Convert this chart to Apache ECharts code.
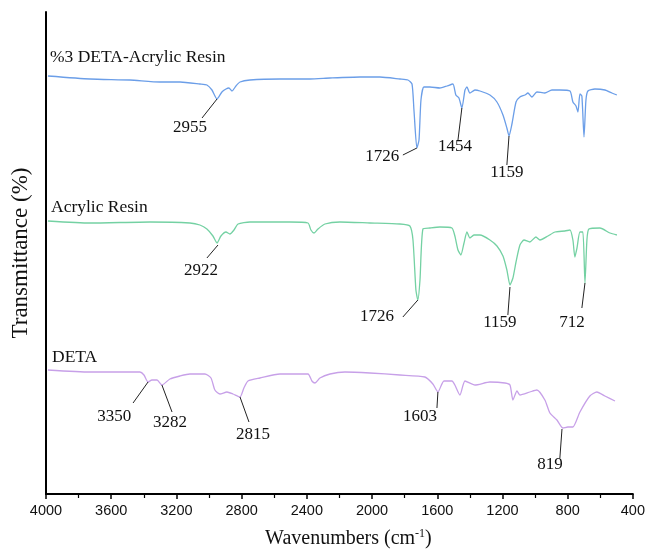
<!DOCTYPE html>
<html>
<head>
<meta charset="utf-8">
<script src="https://cdn.jsdelivr.net/npm/echarts@6/dist/echarts.min.js"></script>
<style>
  html, body { margin: 0; padding: 0; background: #fff; }
  #chart { width: 648px; height: 554px; }
</style>
</head>
<body>
<div id="chart"></div>
<script>
// spectra as [wavenumber, offset transmittance] (arbitrary units, stacked)
const detaAcrylic = [
  [3988, 418], [3730, 415], [3485, 414], [3301, 412], [3178, 412], [3056, 410], [3013, 409],
  [2982, 404], [2951, 395], [2921, 402], [2896, 405], [2878, 406], [2859, 403], [2835, 408],
  [2810, 412], [2749, 414], [2565, 415], [2381, 415], [2258, 416], [2074, 417], [1952, 417],
  [1829, 415], [1780, 414], [1755, 410], [1743, 384], [1725, 346], [1712, 354], [1700, 394],
  [1682, 407], [1645, 407], [1584, 406], [1541, 408], [1504, 410], [1486, 399], [1467, 396],
  [1449, 386], [1430, 404], [1418, 407], [1400, 401], [1369, 404], [1338, 403], [1277, 399],
  [1234, 392], [1197, 379], [1173, 366], [1160, 358], [1142, 370], [1117, 392], [1093, 397],
  [1062, 399], [1044, 401], [1019, 397], [989, 402], [940, 401], [897, 404], [848, 404],
  [786, 403], [768, 392], [749, 388], [737, 382], [725, 400], [713, 398], [700, 357],
  [688, 394], [676, 403], [633, 405], [571, 404], [529, 401], [498, 399]
];
const acrylic = [
  [3988, 273], [3730, 271], [3362, 272], [3117, 271], [3056, 269], [3013, 265], [2976, 258],
  [2951, 251], [2927, 258], [2896, 262], [2872, 260], [2847, 264], [2822, 270], [2749, 272],
  [2504, 272], [2393, 271], [2375, 264], [2356, 261], [2332, 265], [2289, 270], [2197, 272],
  [2013, 271], [1829, 270], [1768, 268], [1749, 254], [1731, 204], [1719, 194], [1706, 214],
  [1688, 265], [1645, 266], [1584, 267], [1510, 266], [1492, 258], [1473, 244], [1455, 239],
  [1436, 251], [1418, 262], [1400, 256], [1375, 259], [1338, 259], [1277, 254], [1234, 248],
  [1197, 238], [1173, 224], [1154, 209], [1136, 216], [1117, 232], [1093, 249], [1068, 254],
  [1032, 252], [995, 257], [970, 254], [921, 258], [878, 262], [817, 263], [786, 264],
  [768, 254], [756, 237], [743, 246], [725, 262], [707, 262], [694, 211], [682, 254],
  [670, 265], [602, 266], [541, 261], [498, 259]
];
const deta = [
  [3988, 124], [3730, 122], [3424, 122], [3399, 119], [3374, 112], [3350, 114], [3319, 114],
  [3289, 109], [3240, 115], [3178, 118], [3117, 120], [3025, 120], [2988, 116], [2964, 104],
  [2933, 100], [2890, 102], [2853, 100], [2810, 97], [2786, 106], [2761, 113], [2688, 116],
  [2565, 120], [2393, 120], [2369, 113], [2350, 111], [2320, 116], [2258, 120], [2166, 122],
  [2013, 121], [1829, 119], [1676, 117], [1627, 110], [1596, 102], [1559, 113], [1510, 113],
  [1492, 109], [1461, 99], [1430, 113], [1369, 109], [1277, 112], [1185, 111], [1154, 109],
  [1136, 94], [1111, 103], [1093, 99], [1032, 102], [989, 104], [940, 94], [909, 81],
  [866, 74], [829, 66], [799, 67], [768, 67], [725, 82], [664, 98], [621, 102],
  [572, 98], [510, 93]
];

// peak annotations: label, peak point, leader end, text position
const peaksDetaAcrylic = [
  ['2955', [2951, 395], [3043, 376], [3117, 366]],
  ['1726', [1725, 346], [1811, 339], [1938, 337]],
  ['1454', [1449, 386], [1473, 354], [1492, 347]],
  ['1159', [1160, 358], [1173, 329], [1173, 321]]
];
const peaksAcrylic = [
  ['2922', [2945, 249], [3013, 236], [3049, 223]],
  ['1726', [1719, 194], [1811, 177], [1969, 177]],
  ['1159', [1154, 207], [1167, 179], [1216, 171]],
  ['712', [694, 211], [713, 186], [774, 171]]
];
const peaksDeta = [
  ['3350', [3374, 112], [3466, 91], [3582, 77]],
  ['3282', [3289, 109], [3227, 82], [3240, 71]],
  ['2815', [2810, 97], [2755, 72], [2730, 59]],
  ['1603', [1596, 102], [1602, 86], [1706, 77]],
  ['819', [835, 65], [848, 36], [909, 29]]
];

const seriesNames = ['%3 DETA-Acrylic Resin', 'Acrylic Resin', 'DETA'];
const seriesColors = ['#6b9ee8', '#74d1a3', '#c7a0e8'];
const xTicks = [4000, 3600, 3200, 2800, 2400, 2000, 1600, 1200, 800, 400];

const serif = '"Liberation Serif", "DejaVu Serif", serif';
const sans = '"Liberation Sans", Arial, sans-serif';

function buildSeries(name, data, color, peaks) {
  return {
    name: name,
    type: 'line',
    data: data,
    showSymbol: false,
    smooth: 0.2,
    lineStyle: { color: color, width: 1.3 },
    markLine: {
      silent: true,
      symbol: 'none',
      label: { show: false },
      lineStyle: { color: '#222', width: 1, type: 'solid' },
      data: peaks.map((p) => [{ coord: p[1] }, { coord: p[2] }]),
    },
    markPoint: {
      silent: true,
      symbol: 'circle',
      symbolSize: 0,
      label: {
        show: true,
        position: 'inside',
        color: '#111',
        fontFamily: serif,
        fontSize: 17,
        formatter: (d) => d.name,
      },
      data: peaks.map((p) => ({ name: p[0], coord: p[3] })),
    },
  }
}

const chart = echarts.init(document.getElementById('chart'))
chart.setOption({
  animation: false,
  grid: { left: 46, right: 15, top: 12, bottom: 60 },
  xAxis: {
    type: 'value',
    inverse: true,
    min: 400,
    max: 4000,
    interval: 400,
    name: '{a|Wavenumbers (cm}{b|-1}{a|)}',
    nameLocation: 'middle',
    nameGap: 34,
    nameTextStyle: {
      padding: [0, 0, 0, 18],
      rich: {
        a: { fontFamily: serif, fontSize: 20, color: '#111' },
        b: { fontFamily: serif, fontSize: 12, color: '#111', verticalAlign: 'top', padding: [0, 0, 9, 0] },
      },
    },
    axisLine: { lineStyle: { color: '#000', width: 2 } },
    axisTick: { show: true, length: 5, lineStyle: { color: '#000', width: 1.5 } },
    minorTick: { show: true, splitNumber: 2, length: 4, lineStyle: { color: '#000', width: 1.2 } },
    axisLabel: {
      color: '#111',
      fontFamily: sans,
      fontSize: 14.5,
      margin: 9,
      formatter: (v) => (xTicks.includes(v) ? String(v) : ''),
    },
    splitLine: { show: false },
  },
  yAxis: {
    type: 'value',
    min: 0,
    max: 482,
    name: 'Transmittance (%)',
    nameLocation: 'middle',
    nameGap: 14,
    nameTextStyle: { fontFamily: serif, fontSize: 23, color: '#111', padding: [0, 0, 0, 0] },
    axisLine: { show: true, lineStyle: { color: '#000', width: 2 } },
    axisTick: { show: false },
    axisLabel: { show: false },
    splitLine: { show: false },
  },
  graphic: [
    { type: 'text', left: 50, top: 48, style: { text: seriesNames[0], font: '17.5px ' + serif, fill: '#111' } },
    { type: 'text', left: 51, top: 198, style: { text: seriesNames[1], font: '17.5px ' + serif, fill: '#111' } },
    { type: 'text', left: 52, top: 348, style: { text: seriesNames[2], font: '17.5px ' + serif, fill: '#111' } },
  ],
  series: [
    buildSeries(seriesNames[0], detaAcrylic, seriesColors[0], peaksDetaAcrylic),
    buildSeries(seriesNames[1], acrylic, seriesColors[1], peaksAcrylic),
    buildSeries(seriesNames[2], deta, seriesColors[2], peaksDeta),
  ],
})
</script>
</body>
</html>
